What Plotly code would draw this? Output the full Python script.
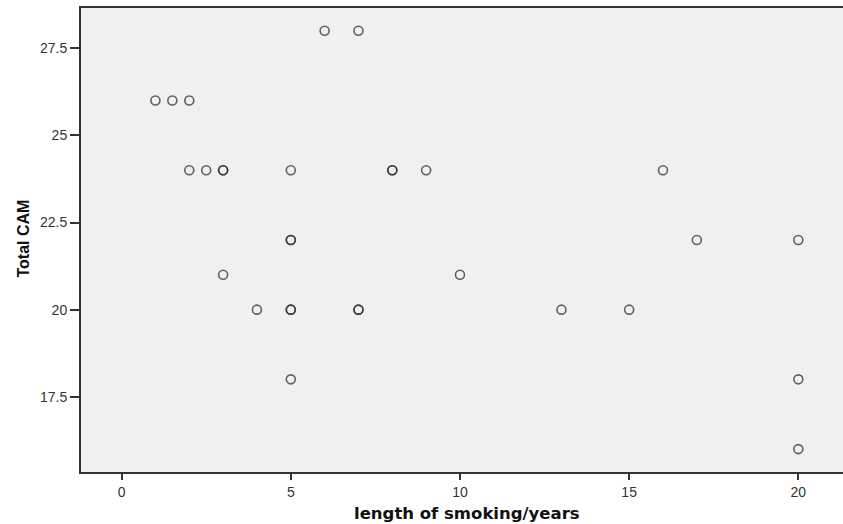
import plotly.graph_objects as go

# length of smoking (years) and Total CAM score, one entry per case
smoking_years = [6, 7,
                 1, 1.5, 2,
                 2, 2.5, 3, 3, 5, 8, 8, 9, 16,
                 5, 5, 17, 20,
                 3, 10,
                 4, 5, 5, 7, 7, 13, 15,
                 5, 20,
                 20]
total_cam = [28, 28,
             26, 26, 26,
             24, 24, 24, 24, 24, 24, 24, 24, 24,
             22, 22, 22, 22,
             21, 21,
             20, 20, 20, 20, 20, 20, 20,
             18, 18,
             16]

x_ticks = [0, 5, 10, 15, 20]
y_ticks = [17.5, 20, 22.5, 25, 27.5]
y_tick_text = ["17.5", "20", "22.5", "25", "27.5"]

W, H = 843, 524
L, R, T, B = 81, 0, 8, 52
pw, ph = W - L - R, H - T - B

fig = go.Figure(go.Scatter(
    x=smoking_years, y=total_cam, mode="markers",
    marker=dict(symbol="circle-open", size=9,
                color="rgba(40,40,40,0.72)",
                line=dict(width=1.6, color="rgba(40,40,40,0.72)")),
    showlegend=False, hoverinfo="x+y"))

fig.update_layout(
    width=W, height=H,
    margin=dict(l=L, r=R, t=T, b=B),
    paper_bgcolor="white", plot_bgcolor="#f0f0f0",
    font=dict(family="Liberation Sans, Arial, sans-serif", size=14, color="#222"),
    xaxis=dict(range=[-1.2, 21.32], tickvals=x_ticks, ticktext=[str(v) for v in x_ticks],
               showgrid=False, zeroline=False, showline=True, linecolor="#333",
               linewidth=2, mirror=True, ticks="outside", ticklen=6, tickwidth=2,
               tickcolor="#333", tickfont=dict(size=14, color="#333")),
    yaxis=dict(range=[15.343, 28.653], tickvals=y_ticks, ticktext=y_tick_text,
               showgrid=False, zeroline=False, showline=True, linecolor="#333",
               linewidth=2, mirror=False, ticks="outside", ticklen=9, tickwidth=2,
               tickcolor="#333", tickfont=dict(size=14, color="#333")),
    annotations=[
        dict(text="<b>length of smoking/years</b>", xref="paper", yref="paper",
             x=(467 - L) / pw, y=-(513 - (H - B)) / ph, xanchor="center", yanchor="middle",
             showarrow=False, font=dict(size=16.5, color="#111", family="DejaVu Sans, sans-serif")),
        dict(text="<b>Total CAM</b>", xref="paper", yref="paper",
             x=-(L - 23) / pw, y=1 - (238.5 - T) / ph, xanchor="center", yanchor="middle",
             textangle=-90, showarrow=False,
             font=dict(size=16, color="#111", family="Liberation Sans, Arial, sans-serif")),
    ],
)

fig.write_html("out.html", config={"displayModeBar": False},
               post_script="document.body.style.margin='0';document.body.style.overflow='hidden';")
